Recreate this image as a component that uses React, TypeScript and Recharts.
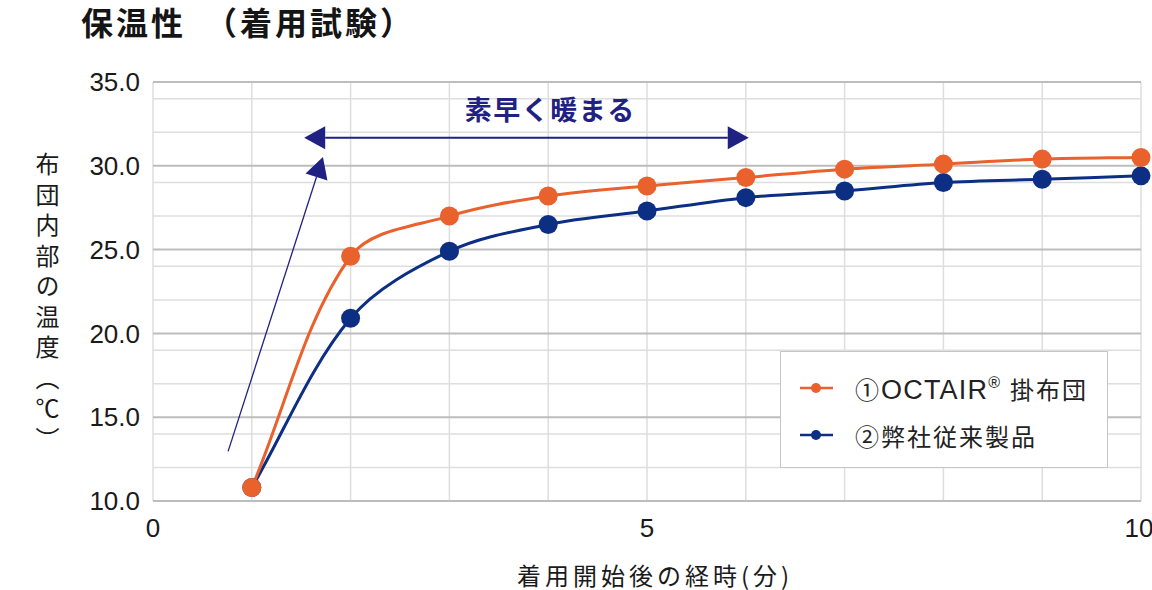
import { LineChart, Line, XAxis, YAxis, CartesianGrid, ReferenceLine, ReferenceDot } from "recharts";

const minutes = [1, 2, 3, 4, 5, 6, 7, 8, 9, 10];
const octair = [10.8, 24.6, 27.0, 28.2, 28.8, 29.3, 29.8, 30.1, 30.4, 30.5];
const conventional = [10.8, 20.9, 24.9, 26.5, 27.3, 28.1, 28.5, 29.0, 29.2, 29.4];

const yTicks = [10, 15, 20, 25, 30, 35];
const xTicks = [0, 5, 10];
const minorY = [11, 12, 13, 14, 16, 17, 18, 19, 21, 22, 23, 24, 26, 27, 28, 29, 31, 32, 33, 34];
const gridX = [0, 1, 2, 3, 4, 5, 6, 7, 8, 9, 10];

const seriesNames = ["①OCTAIR", "②弊社従来製品"];

const ORANGE = "#e9612c";
const NAVY = "#0c2f83";
const ANNOT = "#1f2282";
const NUM_FONT = "'Liberation Sans', Arial, sans-serif";
const JP_FONT = "'Noto Sans CJK JP', 'Noto Sans', sans-serif";

const data = minutes.map((m, i) => ({ m, a: octair[i], b: conventional[i] }));

// spreadsheet-like smoothed line: tangents scaled by neighbouring chord lengths
function smoothCurve(ctx: any) {
  let pts: number[][] = [];
  const dist = (p: number[], q: number[]) => Math.hypot(q[0] - p[0], q[1] - p[1]);
  return {
    areaStart() {},
    areaEnd() {},
    lineStart() { pts = []; },
    point(x: number, y: number) { pts.push([+x, +y]); },
    lineEnd() {
      if (!pts.length) return;
      ctx.moveTo(pts[0][0], pts[0][1]);
      for (let i = 0; i < pts.length - 1; i++) {
        const p0 = pts[Math.max(i - 1, 0)];
        const p1 = pts[i];
        const p2 = pts[i + 1];
        const p3 = pts[Math.min(i + 2, pts.length - 1)];
        const d01 = dist(p0, p1), d12 = dist(p1, p2), d23 = dist(p2, p3);
        const f1 = d12 / (d01 + d12 || 1) / 3;
        const f2 = d12 / (d12 + d23 || 1) / 3;
        ctx.bezierCurveTo(
          p1[0] + (p2[0] - p0[0]) * f1, p1[1] + (p2[1] - p0[1]) * f1,
          p2[0] - (p3[0] - p1[0]) * f2, p2[1] - (p3[1] - p1[1]) * f2,
          p2[0], p2[1],
        );
      }
    },
  };
}

// arrow drawn from (x1,y1) to (x2,y2), head at end (and at start if both)
function arrowShape(both: boolean) {
  return (p: any) => {
    const { x1, y1, x2, y2 } = p;
    const ang = Math.atan2(y2 - y1, x2 - x1);
    const len = 21, half = 11.5;
    const head = (tx: number, ty: number, a: number) => {
      const bx = tx - len * Math.cos(a), by = ty - len * Math.sin(a);
      const nx = -Math.sin(a) * half, ny = Math.cos(a) * half;
      return `${tx},${ty} ${bx + nx},${by + ny} ${bx - nx},${by - ny}`;
    };
    const sx = both ? x1 + len * Math.cos(ang) : x1;
    const sy = both ? y1 + len * Math.sin(ang) : y1;
    const ex = x2 - len * Math.cos(ang), ey = y2 - len * Math.sin(ang);
    return (
      <g>
        <line x1={sx} y1={sy} x2={ex} y2={ey} stroke={ANNOT} strokeWidth={both ? 2 : 1.3} />
        <polygon points={head(x2, y2, ang)} fill={ANNOT} />
        {both && <polygon points={head(x1, y1, ang + Math.PI)} fill={ANNOT} />}
      </g>
    );
  };
}

function LegendBox() {
  const rows = [
    {
      color: ORANGE,
      label: (
        <>
          <span>①</span>
          <span style={{ fontFamily: NUM_FONT, fontSize: 27, letterSpacing: 1.2 }}>OCTAIR</span>
          <span style={{ fontFamily: NUM_FONT, fontSize: 16, position: "relative", top: -11 }}>®</span>
          <span style={{ marginLeft: 8 }}>掛布団</span>
        </>
      ),
    },
    { color: NAVY, label: <>②弊社従来製品</> },
  ];
  return (
    <div style={{ position: "absolute", left: 780, top: 351, width: 326, height: 115, border: "1px solid #c6c6c6", background: "#fff" }}>
      {rows.map((r, i) => (
        <div key={i} style={{ position: "absolute", left: 18, top: 21 + i * 47, height: 30, display: "flex", alignItems: "center", whiteSpace: "nowrap" }}>
          <svg width={36} height={14}>
            <line x1={1} y1={7} x2={34} y2={7} stroke={r.color} strokeWidth={2.5} />
            <circle cx={17} cy={7} r={5} fill={r.color} />
          </svg>
          <span style={{ marginLeft: 20, fontFamily: JP_FONT, fontSize: 24, color: "#222", letterSpacing: 2 }}>{r.label}</span>
        </div>
      ))}
    </div>
  );
}

export default function App() {
  return (
    <div style={{ position: "absolute", left: 0, top: 0, width: 1152, height: 590, background: "#fff", overflow: "hidden" }}>
      <div style={{ position: "absolute", left: 81, top: 2, width: 360, fontFamily: JP_FONT, fontWeight: 700, fontSize: 32, letterSpacing: 3, color: "#151515", lineHeight: "38px", whiteSpace: "nowrap" }}>
        保温性　（着用試験）
      </div>
      <LineChart width={1152} height={590} data={data} margin={{ top: 82, right: 11, bottom: 0, left: 0 }}>
        <CartesianGrid horizontalValues={minorY} verticalValues={gridX} stroke="#dedede" strokeWidth={1.5} fill="none" />
        <CartesianGrid horizontalValues={yTicks} vertical={false} stroke="#bdbdbd" strokeWidth={2} fill="none" />
        <XAxis
          dataKey="m"
          type="number"
          domain={[0, 10]}
          ticks={xTicks}
          axisLine={false}
          tickLine={false}
          tickSize={0}
          tickMargin={18}
          height={89}
          tick={{ fontSize: 26, fill: "#1a1a1a", fontFamily: NUM_FONT }}
        />
        <YAxis
          type="number"
          domain={[10, 35]}
          ticks={yTicks}
          axisLine={false}
          tickLine={false}
          tickSize={0}
          tickMargin={13}
          width={153}
          tickFormatter={(v: number) => v.toFixed(1)}
          tick={{ fontSize: 26, fill: "#1a1a1a", fontFamily: NUM_FONT }}
        />
        <ReferenceLine segment={[{ x: 0.76, y: 12.96 }, { x: 1.72, y: 30.52 }]} shape={arrowShape(false)} ifOverflow="visible" />
        <ReferenceLine segment={[{ x: 1.53, y: 31.67 }, { x: 6.03, y: 31.67 }]} shape={arrowShape(true)} ifOverflow="visible" />
        <ReferenceDot
          x={4.02}
          y={33.4}
          r={0}
          ifOverflow="visible"
          shape={(p: any) => (
            <text x={p.cx} y={p.cy} textAnchor="middle" dominantBaseline="central" fontFamily={JP_FONT} fontWeight={700} fontSize={27} letterSpacing={1.5} fill={ANNOT}>
              素早く暖まる
            </text>
          )}
        />
        <Line
          type={smoothCurve as any}
          dataKey="b"
          name={seriesNames[1]}
          stroke={NAVY}
          strokeWidth={3}
          dot={{ r: 9.5, fill: NAVY, stroke: "none" }}
          isAnimationActive={false}
        />
        <Line
          type={smoothCurve as any}
          dataKey="a"
          name={seriesNames[0]}
          stroke={ORANGE}
          strokeWidth={3}
          dot={{ r: 9.5, fill: ORANGE, stroke: "none" }}
          isAnimationActive={false}
        />
      </LineChart>
      <div style={{ position: "absolute", left: 35, top: 152, writingMode: "vertical-rl", fontFamily: JP_FONT, fontSize: 24, letterSpacing: 6.5, color: "#1a1a1a", lineHeight: "24px" }}>
        布団内部の温度︵℃︶
      </div>
      <div style={{ position: "absolute", left: 517, top: 561, width: 300, fontFamily: JP_FONT, fontSize: 24, letterSpacing: 4, color: "#1a1a1a", lineHeight: "28px", whiteSpace: "nowrap" }}>
        着用開始後の経時(分)
      </div>
      <LegendBox />
    </div>
  );
}
